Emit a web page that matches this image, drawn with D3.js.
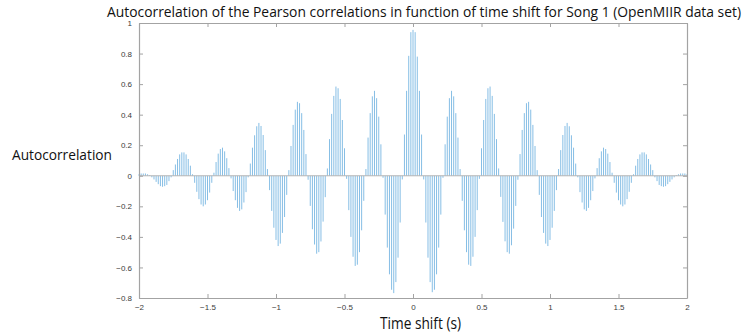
<!DOCTYPE html>
<html lang="en">
<head>
  <meta charset="UTF-8">
  <title>Autocorrelation of the Pearson correlations</title>
  <script src="https://cdn.jsdelivr.net/npm/d3@7"></script>
  <style>
    body { margin: 0; background: #fff; }
    svg { display: block; }
  </style>
</head>
<body>
  <svg id="chart"></svg>
  <script>
    // samples per second of the lag axis
    const sampleRate = 64;

    // autocorrelation values, lag -2 s .. +2 s (257 samples)
    const acf = [
      0.01, 0.015, 0.015, 0.015, 0.01, 0.005,
      -0.01, -0.024, -0.04, -0.055, -0.068, -0.072, -0.068, -0.06, -0.035, -0.01,
      0.037, 0.074, 0.11, 0.14, 0.153, 0.153, 0.14, 0.11, 0.066, 0.01,
      -0.046, -0.105, -0.153, -0.188, -0.2, -0.188, -0.16, -0.11, -0.046,
      0.02, 0.09, 0.145, 0.175, 0.184, 0.16, 0.115, 0.05,
      -0.017, -0.1, -0.16, -0.21, -0.23, -0.22, -0.175, -0.107, -0.01,
      0.08, 0.184, 0.265, 0.324, 0.346, 0.326, 0.267, 0.168, 0.044,
      -0.094, -0.23, -0.34, -0.42, -0.46, -0.444, -0.374, -0.27, -0.125,
      0.037, 0.195, 0.333, 0.433, 0.484, 0.475, 0.41, 0.3, 0.142,
      -0.026, -0.197, -0.35, -0.45, -0.51, -0.5, -0.43, -0.3, -0.14,
      0.048, 0.24, 0.405, 0.523, 0.584, 0.573, 0.503, 0.365, 0.18,
      -0.02, -0.225, -0.4, -0.53, -0.59, -0.582, -0.5, -0.357, -0.164,
      0.044, 0.25, 0.41, 0.52, 0.556, 0.508, 0.387, 0.206, -0.013,
      -0.254, -0.47, -0.645, -0.746, -0.768, -0.696, -0.536, -0.306, -0.024,
      0.27, 0.556, 0.785, 0.94,
      0.955,
      0.94, 0.78, 0.556, 0.27,
      -0.024, -0.306, -0.536, -0.696, -0.762, -0.746, -0.645, -0.47, -0.254, -0.013,
      0.206, 0.387, 0.508, 0.556, 0.52, 0.41, 0.25, 0.044,
      -0.164, -0.357, -0.5, -0.582, -0.59, -0.53, -0.4, -0.225, -0.02,
      0.18, 0.365, 0.503, 0.573, 0.584, 0.523, 0.405, 0.24, 0.048,
      -0.138, -0.302, -0.429, -0.5, -0.51, -0.455, -0.346, -0.197, -0.026,
      0.142, 0.3, 0.41, 0.475, 0.484, 0.433, 0.333, 0.195, 0.037,
      -0.125, -0.27, -0.374, -0.444, -0.46, -0.42, -0.34, -0.23, -0.094,
      0.044, 0.168, 0.267, 0.326, 0.346, 0.324, 0.265, 0.184, 0.08,
      -0.01, -0.107, -0.175, -0.22, -0.23, -0.21, -0.16, -0.1, -0.017,
      0.05, 0.115, 0.16, 0.184, 0.175, 0.145, 0.09, 0.02,
      -0.046, -0.11, -0.16, -0.188, -0.2, -0.188, -0.153, -0.105, -0.046,
      0.01, 0.066, 0.11, 0.14, 0.153, 0.153, 0.14, 0.11, 0.074, 0.037,
      -0.01, -0.035, -0.06, -0.068, -0.072, -0.068, -0.055, -0.04, -0.024, -0.01,
      0.005, 0.01, 0.015, 0.015, 0.015, 0.01
    ];

    const xTicks = [-2, -1.5, -1, -0.5, 0, 0.5, 1, 1.5, 2];
    const yTicks = [-0.8, -0.6, -0.4, -0.2, 0, 0.2, 0.4, 0.6, 0.8, 1];

    const titleText = "Autocorrelation of the Pearson correlations in function of time shift for Song 1 (OpenMIIR data set)";
    const xLabel = "Time shift (s)";
    const yLabel = "Autocorrelation";

    const half = (acf.length - 1) / 2;
    const points = acf.map((v, i) => ({ lag: (i - half) / sampleRate, value: v }));

    const width = 747;
    const height = 336;
    const plot = { left: 139, right: 687, top: 23, bottom: 298 };

    const svg = d3.select("#chart")
      .attr("width", width)
      .attr("height", height);

    const x = d3.scaleLinear().domain([-2, 2]).range([plot.left, plot.right]);
    const y = d3.scaleLinear().domain([-0.8, 1]).range([plot.bottom, plot.top]);

    const axisColor = "#a3a3a3";
    const labelColor = "#3c3c3c";
    const tickFont = "Liberation Sans, Arial, sans-serif";

    // stems
    svg.append("g")
      .selectAll("line")
      .data(points)
      .join("line")
      .attr("x1", d => x(d.lag))
      .attr("x2", d => x(d.lag))
      .attr("y1", y(0))
      .attr("y2", d => y(d.value))
      .attr("stroke", "#86bee5")
      .attr("stroke-width", 1);

    // baseline
    svg.append("line")
      .attr("x1", x(-2)).attr("x2", x(2))
      .attr("y1", y(0)).attr("y2", y(0))
      .attr("stroke", "#b5b5b5")
      .attr("stroke-width", 1);

    // axes (inward ticks, box on all sides)
    function styleAxis(g) {
      g.selectAll("path").attr("stroke", axisColor);
      g.selectAll("line").attr("stroke", axisColor);
      g.selectAll("text")
        .attr("fill", labelColor)
        .style("font-family", tickFont)
        .style("font-size", "8px");
    }

    svg.append("g")
      .attr("transform", `translate(0,${plot.bottom})`)
      .call(d3.axisBottom(x).tickValues(xTicks).tickFormat(d3.format("")).tickSizeInner(-4).tickSizeOuter(0).tickPadding(6))
      .call(styleAxis);

    svg.append("g")
      .attr("transform", `translate(0,${plot.top})`)
      .call(d3.axisTop(x).tickValues(xTicks).tickFormat("").tickSizeInner(-4).tickSizeOuter(0))
      .call(styleAxis);

    svg.append("g")
      .attr("transform", `translate(${plot.left},0)`)
      .call(d3.axisLeft(y).tickValues(yTicks).tickFormat(d3.format("")).tickSizeInner(-4).tickSizeOuter(0).tickPadding(7))
      .call(styleAxis);

    svg.append("g")
      .attr("transform", `translate(${plot.right},0)`)
      .call(d3.axisRight(y).tickValues(yTicks).tickFormat("").tickSizeInner(-4).tickSizeOuter(0))
      .call(styleAxis);

    svg.selectAll(".domain").attr("stroke-width", 1.2);

    // title and labels
    svg.append("text")
      .attr("x", 107)
      .attr("y", 16.5)
      .attr("textLength", 634)
      .attr("lengthAdjust", "spacingAndGlyphs")
      .style("font-family", "Open Sans, Noto Sans, sans-serif")
      .style("font-size", "14px")
      .attr("fill", "#111")
      .text(titleText);

    svg.append("text")
      .attr("x", 12)
      .attr("y", 159.5)
      .attr("textLength", 100)
      .attr("lengthAdjust", "spacingAndGlyphs")
      .style("font-family", "Open Sans, Noto Sans, sans-serif")
      .style("font-size", "15px")
      .attr("fill", "#111")
      .text(yLabel);

    svg.append("text")
      .attr("x", 380)
      .attr("y", 329)
      .attr("textLength", 81)
      .attr("lengthAdjust", "spacingAndGlyphs")
      .style("font-family", "Open Sans, Noto Sans, sans-serif")
      .style("font-size", "16px")
      .attr("fill", "#111")
      .text(xLabel);
  </script>
</body>
</html>
